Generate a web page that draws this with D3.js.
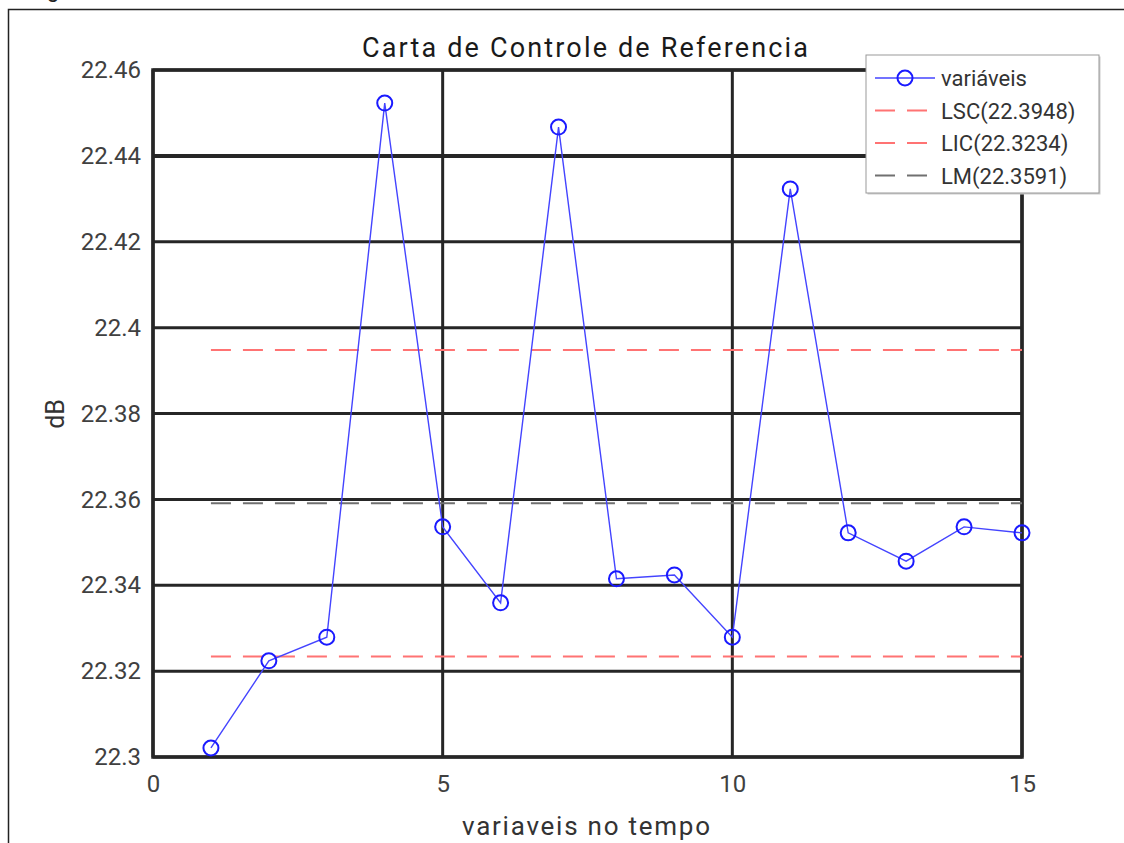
<!DOCTYPE html>
<html>
<head>
<meta charset="utf-8">
<script src="https://cdn.jsdelivr.net/npm/d3@7/dist/d3.min.js"></script>
<style>
  body { margin: 0; background: #fff; }
  text { font-family: Roboto, "Noto Sans", sans-serif; }
</style>
</head>
<body>
<div id="chart"></div>
<script>
var tempo = [1, 2, 3, 4, 5, 6, 7, 8, 9, 10, 11, 12, 13, 14, 15];
var valores = [22.3021, 22.3224, 22.3279, 22.4523, 22.3536, 22.3359, 22.4467, 22.3415,
    22.3424, 22.3279, 22.4323, 22.3522, 22.3456, 22.3536, 22.3522];
var limites = [
    { nome: "LSC", valor: 22.3948, cor: "#ff7373" },
    { nome: "LIC", valor: 22.3234, cor: "#ff7373" },
    { nome: "LM", valor: 22.3591, cor: "#707070" }
];
var xTicks = [0, 5, 10, 15];
var yTicks = [22.3, 22.32, 22.34, 22.36, 22.38, 22.4, 22.42, 22.44, 22.46];

var W = 1124, H = 843;
var svg = d3.select("#chart").append("svg").attr("width", W).attr("height", H);

// figure frame (cut off at the right / bottom)
svg.append("path").attr("d", "M8.5," + H + "V9.5H" + W)
    .style("fill", "none").style("stroke", "#222").style("stroke-width", 1.5);
svg.append("text").attr("x", 47).attr("y", -3).style("font-size", "22px").style("fill", "#222").text("g");

var x = d3.scaleLinear().domain([0, 15]).range([153, 1022]);
var y = d3.scaleLinear().domain([22.3, 22.46]).range([757, 70]);

var grid = svg.append("g");
grid.selectAll(".gx").data(xTicks).enter().append("line").attr("class", "gx")
    .attr("x1", function (d) { return x(d); }).attr("x2", function (d) { return x(d); })
    .attr("y1", y(22.46)).attr("y2", y(22.3))
    .style("stroke", "#262626").style("stroke-width", 3);
grid.selectAll(".gy").data(yTicks).enter().append("line").attr("class", "gy")
    .attr("x1", x(0)).attr("x2", x(15))
    .attr("y1", function (d) { return y(d); }).attr("y2", function (d) { return y(d); })
    .style("stroke", "#262626").style("stroke-width", function (d) { return d == 22.44 ? 4 : 3; });

// axes frame
svg.append("rect").attr("x", x(0)).attr("y", y(22.46)).attr("width", x(15) - x(0)).attr("height", y(22.3) - y(22.46))
    .style("fill", "none").style("stroke", "#262626").style("stroke-width", 3.5);

var xAxis = d3.axisBottom(x).tickValues(xTicks).tickSize(0).tickPadding(18);
var gx = svg.append("g").attr("transform", "translate(0," + y(22.3) + ")").call(xAxis);
var yAxis = d3.axisLeft(y).tickValues(yTicks).tickSize(0).tickPadding(12).tickFormat(function (d) { return +d.toFixed(2); });
var gy = svg.append("g").attr("transform", "translate(" + x(0) + ",0)").call(yAxis);
[gx, gy].forEach(function (g) {
    g.select(".domain").remove();
    g.selectAll("text").style("font-size", "24px").style("fill", "#404040").style("font-family", "Roboto, sans-serif");
});

// control lines
svg.selectAll(".lim").data(limites).enter().append("line").attr("class", "lim")
    .attr("x1", x(1)).attr("x2", x(15))
    .attr("y1", function (d) { return y(d.valor); }).attr("y2", function (d) { return y(d.valor); })
    .style("stroke", function (d) { return d.cor; }).style("stroke-width", 2)
    .style("stroke-dasharray", "20,12");

var pts = tempo.map(function (t, i) { return [t, valores[i]]; });
var line = d3.line().x(function (d) { return x(d[0]); }).y(function (d) { return y(d[1]); });
svg.append("path").datum(pts).attr("d", line)
    .style("fill", "none").style("stroke", "#4444ff").style("stroke-width", 1.4);
svg.selectAll(".pt").data(pts).enter().append("circle").attr("class", "pt")
    .attr("cx", function (d) { return x(d[0]); }).attr("cy", function (d) { return y(d[1]); })
    .attr("r", 7.5).style("fill", "none").style("stroke", "#1a1aff").style("stroke-width", 2);

// title and labels
svg.append("text").attr("x", 585).attr("y", 57).attr("text-anchor", "middle")
    .attr("textLength", 446).attr("lengthAdjust", "spacing")
    .style("font-size", "27px").style("fill", "#1a1a1a").text("Carta de Controle de Referencia");
svg.append("text").attr("x", 586).attr("y", 835).attr("text-anchor", "middle")
    .attr("textLength", 248).attr("lengthAdjust", "spacing")
    .style("font-size", "26px").style("fill", "#333").text("variaveis no tempo");
svg.append("text").attr("transform", "translate(64,414) rotate(-90)").attr("text-anchor", "middle")
    .style("font-size", "25px").style("fill", "#333").text("dB");

// legend
var leg = svg.append("g").attr("transform", "translate(866,55)");
leg.append("rect").attr("x", 1.5).attr("y", 1.5).attr("width", 233).attr("height", 138).style("fill", "#ccc");
leg.append("rect").attr("width", 233).attr("height", 138)
    .style("fill", "#fff").style("stroke", "#999").style("stroke-width", 1);
var itens = [{ nome: "variáveis", cor: "#4444ff", serie: true }].concat(limites.map(function (d) {
    return { nome: d.nome + "(" + d.valor + ")", cor: d.cor, serie: false };
}));
var row = leg.selectAll(".row").data(itens).enter().append("g").attr("class", "row")
    .attr("transform", function (d, i) { return "translate(0," + (23 + i * 32.5) + ")"; });
row.append("line").attr("x1", 9).attr("x2", 69).attr("y1", 0).attr("y2", 0)
    .style("stroke", function (d) { return d.cor; }).style("stroke-width", function (d) { return d.serie ? 1.4 : 2; })
    .style("stroke-dasharray", function (d) { return d.serie ? null : "20,12"; });
row.filter(function (d) { return d.serie; }).append("circle").attr("cx", 39).attr("cy", 0).attr("r", 7.5)
    .style("fill", "none").style("stroke", "#1a1aff").style("stroke-width", 2);
row.append("text").attr("x", 75).attr("y", 8).style("font-size", "22px").style("fill", "#333")
    .text(function (d) { return d.nome; });
</script>
</body>
</html>
